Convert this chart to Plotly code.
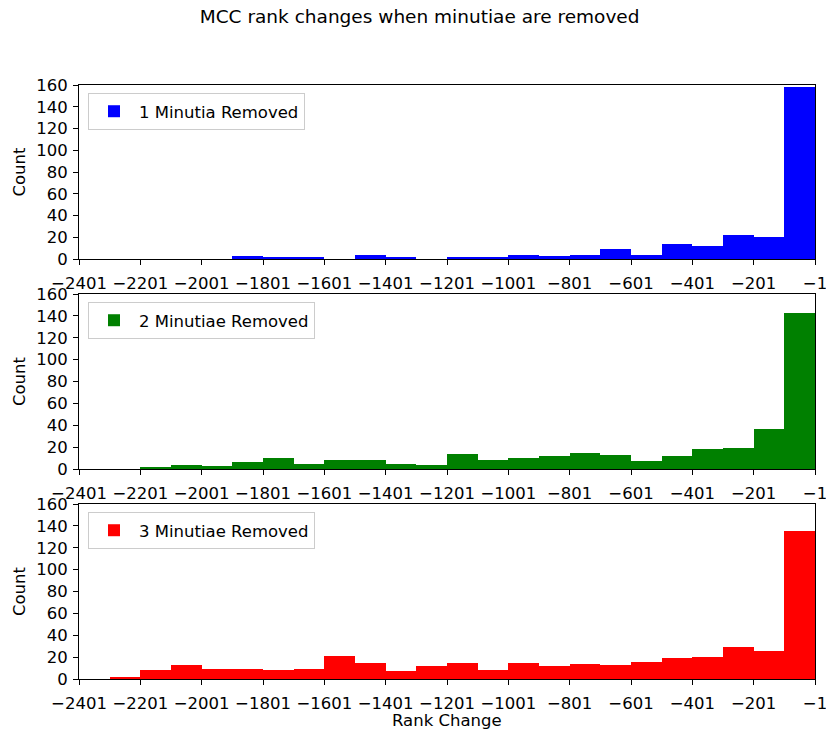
import plotly.graph_objects as go

# bin left edges: -2401 + 100*k, 24 bins of width 100
bin_lefts = [-2401 + 100 * k for k in range(24)]
bin_width = 100

counts_1 = [0, 0, 0, 0, 0, 3, 1, 1, 0, 4, 2, 0, 2, 2, 4, 3, 4, 9, 4, 14, 12, 22, 20, 158]
counts_2 = [0, 0, 1, 4, 3, 6, 10, 5, 8, 8, 5, 4, 14, 8, 10, 12, 15, 13, 7, 12, 18, 19, 37, 143]
counts_3 = [0, 2, 8, 13, 9, 9, 8, 9, 21, 15, 7, 12, 15, 8, 15, 12, 14, 13, 16, 19, 20, 29, 26, 135]

series_names = ["1 Minutia Removed", "2 Minutiae Removed", "3 Minutiae Removed"]
series_colors = ["#0000ff", "#008000", "#ff0000"]

tick_vals = [-2401, -2201, -2001, -1801, -1601, -1401, -1201, -1001, -801, -601, -401, -201, -1]
tick_text = [str(v).replace("-", "\u2212") for v in tick_vals]
y_ticks = [0, 20, 40, 60, 80, 100, 120, 140, 160]

FONT = "DejaVu Sans"
FS = 16.5
W, H = 826, 730
L, R, T, B = 79, 11, 85, 51
ph = H - T - B
panels_px = [(85, 259), (294, 469), (504, 679)]

fig = go.Figure()
centers = [b + bin_width / 2 for b in bin_lefts]
for i, (cnt, name, col) in enumerate(zip([counts_1, counts_2, counts_3], series_names, series_colors)):
    sfx = "" if i == 0 else str(i + 1)
    fig.add_trace(go.Bar(
        x=centers, y=cnt, width=[bin_width] * len(cnt), name=name,
        marker=dict(color=col, line=dict(width=0)),
        xaxis="x" + sfx, yaxis="y" + sfx, legend="legend" + sfx,
    ))
    top, bot = panels_px[i]
    dom = [(H - B - bot) / ph, (H - B - top) / ph]
    ax_common = dict(showline=True, linecolor="black", linewidth=1, mirror=True,
                     ticks="outside", ticklen=5, tickcolor="black", tickwidth=1,
                     showgrid=False, zeroline=False, automargin=False,
                     ticklabeloverflow="allow",
                     tickfont=dict(family=FONT, size=FS, color="black"))
    fig.update_layout(**{
        "xaxis" + sfx: dict(range=[-2401, -1], tickvals=tick_vals, ticktext=tick_text,
                            anchor="y" + sfx, domain=[0, 1], ticklabelstandoff=4,
                            **ax_common),
        "yaxis" + sfx: dict(range=[0, 160], tickvals=y_ticks, anchor="x" + sfx, domain=dom,
                            ticklabelstandoff=2,
                            title=dict(text="Count", font=dict(family=FONT, size=FS, color="black"),
                                       standoff=6),
                            **ax_common),
        "legend" + sfx: dict(x=(88 - L) / (W - L - R), y=(H - B - (top + 8)) / ph,
                             xanchor="left", yanchor="top",
                             bgcolor="rgba(255,255,255,0.8)", bordercolor="#cccccc", borderwidth=1,
                             itemwidth=40,
                             font=dict(family=FONT, size=FS, color="black")),
    })

fig.add_annotation(text="Rank Change", xref="paper", yref="paper",
                   x=0.5, y=-(720 - 679) / ph, xanchor="center", yanchor="middle",
                   showarrow=False, font=dict(family=FONT, size=FS, color="black"))

fig.update_layout(
    width=W, height=H,
    margin=dict(l=L, r=R, t=T, b=B),
    paper_bgcolor="white", plot_bgcolor="white",
    bargap=0,
    title=dict(text="MCC rank changes when minutiae are removed",
               font=dict(family=FONT, size=18.5, color="black"),
               x=0.508, xanchor="center", xref="container",
               y=1 - 17 / H, yanchor="middle", yref="container"),
    showlegend=True,
)

fig.write_html("out.html")
